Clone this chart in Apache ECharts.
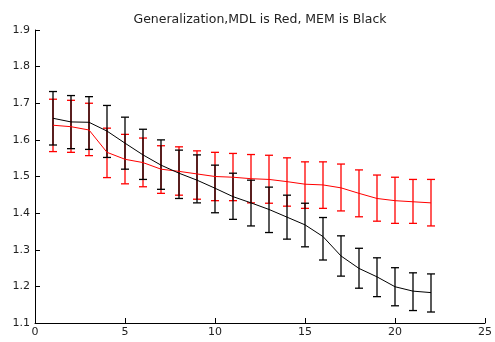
<!DOCTYPE html>
<html><head><meta charset="utf-8">
<script src="https://cdn.jsdelivr.net/npm/echarts@6/dist/echarts.min.js"></script>
<style>html,body{margin:0;padding:0;background:#fff}#c{width:495px;height:342px}</style>
</head><body><div id="c"></div>
<script>
var xs = [1,2,3,4,5,6,7,8,9,10,11,12,13,14,15,16,17,18,19,20,21,22];
var mdlMean = [1.640,1.636,1.627,1.566,1.547,1.538,1.520,1.514,1.507,1.500,1.498,1.494,1.492,1.486,1.479,1.477,1.469,1.454,1.440,1.434,1.431,1.428];
var mdlHigh = [1.711,1.708,1.700,1.632,1.615,1.605,1.584,1.581,1.570,1.566,1.563,1.560,1.558,1.551,1.540,1.540,1.534,1.518,1.504,1.498,1.492,1.492];
var mdlLow  = [1.568,1.566,1.557,1.497,1.480,1.472,1.454,1.449,1.438,1.434,1.434,1.428,1.427,1.419,1.413,1.413,1.406,1.390,1.378,1.372,1.372,1.365];
var memMean = [1.659,1.649,1.648,1.624,1.591,1.559,1.531,1.509,1.490,1.468,1.445,1.428,1.410,1.389,1.368,1.336,1.283,1.249,1.226,1.199,1.187,1.183];
var memHigh = [1.732,1.721,1.718,1.694,1.662,1.629,1.600,1.572,1.559,1.531,1.509,1.490,1.471,1.449,1.427,1.388,1.338,1.304,1.278,1.251,1.237,1.234];
var memLow  = [1.586,1.576,1.574,1.552,1.520,1.492,1.465,1.440,1.428,1.401,1.383,1.365,1.347,1.329,1.308,1.272,1.228,1.195,1.172,1.147,1.134,1.130];

function pairs(a){ return xs.map(function(x,i){return [x,a[i]];}); }
function bars(lo,hi){ return xs.map(function(x,i){return [x,lo[i],hi[i]];}); }
function errSeries(data,color){
  return {
    type:'custom', data:data, z:3,
    encode:{x:0,y:[1,2]},
    renderItem:function(params,api){
      var x=api.value(0);
      var p1=api.coord([x,api.value(1)]);
      var p2=api.coord([x,api.value(2)]);
      var w=4;
      var st={stroke:color,lineWidth:1.3};
      return {type:'group',children:[
        {type:'line',shape:{x1:p1[0],y1:p1[1],x2:p2[0],y2:p2[1]},style:st},
        {type:'line',shape:{x1:p1[0]-w,y1:p1[1],x2:p1[0]+w,y2:p1[1]},style:st},
        {type:'line',shape:{x1:p2[0]-w,y1:p2[1],x2:p2[0]+w,y2:p2[1]},style:st}
      ]};
    }
  };
}
var chart=echarts.init(document.getElementById('c'));
var FONT='DejaVu Sans, Verdana, sans-serif';
var axisFont={color:'#222',fontSize:11,fontFamily:FONT};
chart.setOption({
  animation:false,
  backgroundColor:'#fff',
  title:{text:'Generalization,MDL is Red, MEM is Black',left:255,textAlign:'center',top:8,
    textStyle:{fontSize:12.5,fontWeight:'normal',color:'#222',fontFamily:FONT}},
  grid:{left:35,right:9,top:30,bottom:19,containLabel:false},
  xAxis:{type:'value',min:0,max:25,interval:5,
    axisLine:{lineStyle:{color:'#000',width:1}},
    axisTick:{inside:true,length:5,lineStyle:{color:'#000'}},
    axisLabel:Object.assign({margin:4},axisFont),
    splitLine:{show:false}},
  yAxis:{type:'value',min:1.1,max:1.9,interval:0.1,
    axisLine:{show:true,lineStyle:{color:'#000',width:1}},
    axisTick:{show:true,inside:true,length:5,lineStyle:{color:'#000'}},
    axisLabel:Object.assign({margin:5,formatter:function(v){return v.toFixed(1);}},axisFont),
    splitLine:{show:false}},
  series:[
    errSeries(bars(mdlLow,mdlHigh),'#ff0000'),
    {type:'line',data:pairs(mdlMean),showSymbol:false,symbol:'none',lineStyle:{color:'#ff0000',width:1},z:4},
    errSeries(bars(memLow,memHigh),'#000000'),
    {type:'line',data:pairs(memMean),showSymbol:false,symbol:'none',lineStyle:{color:'#000000',width:1},z:4}
  ]
});
</script></body></html>
